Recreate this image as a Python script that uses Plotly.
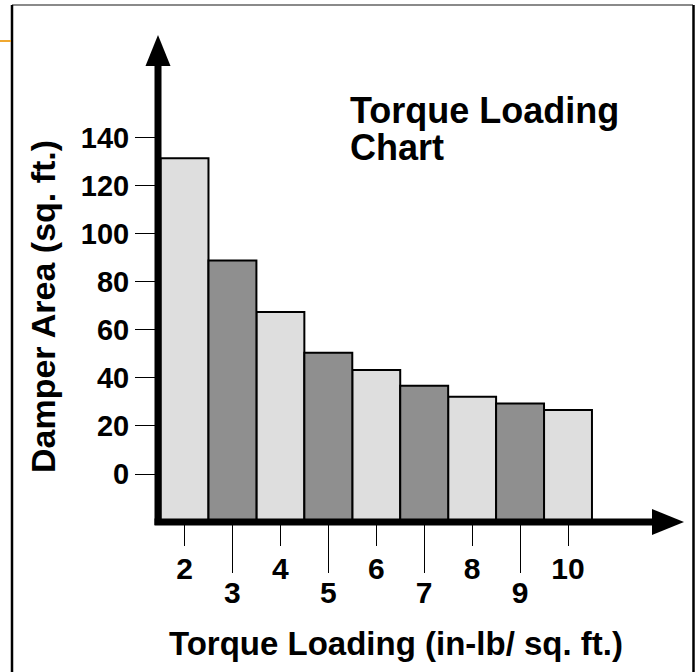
import plotly.graph_objects as go

# ---- data ----
torque = [2, 3, 4, 5, 6, 7, 8, 9, 10]
area = [131.5, 89, 67.5, 50.5, 43.3, 36.8, 32.2, 29.4, 26.7]
y_ticks = [0, 20, 40, 60, 80, 100, 120, 140]
title_lines = ["Torque Loading", "Chart"]
x_title = "Torque Loading (in-lb/ sq. ft.)"
y_title = "Damper Area (sq. ft.)"
baseline = -20

light_x = [t for t in torque if t % 2 == 0]
light_y = [a - baseline for t, a in zip(torque, area) if t % 2 == 0]
dark_x = [t for t in torque if t % 2 == 1]
dark_y = [a - baseline for t, a in zip(torque, area) if t % 2 == 1]

FONT = "Liberation Sans, Arial, sans-serif"
LIGHT = "#DEDEDE"
DARK = "#8F8F8F"

W, H = 697, 672
L, R, T, B = 158, 13, 35, 150
PW, PH = W - L - R, H - T - B


def px(x):
    return (x - L) / PW


def py(y):
    return (H - B - y) / PH


fig = go.Figure()
fig.add_trace(go.Bar(x=light_x, y=light_y, base=baseline, width=1,
                     marker=dict(color=LIGHT, line=dict(color="black", width=2)),
                     xaxis="x", yaxis="y", hoverinfo="skip"))
fig.add_trace(go.Bar(x=dark_x, y=dark_y, base=baseline, width=1,
                     marker=dict(color=DARK, line=dict(color="black", width=2)),
                     xaxis="x2", yaxis="y", hoverinfo="skip"))

xr = [1.447, 12.42]
tickfont = dict(family=FONT, size=30, color="black", weight="bold")

fig.update_layout(
    width=W, height=H,
    margin=dict(l=L, r=R, t=T, b=B),
    paper_bgcolor="white", plot_bgcolor="white",
    showlegend=False, barmode="overlay",
    xaxis=dict(range=xr, tickvals=light_x, ticktext=[str(v) for v in light_x],
               ticks="outside", ticklen=23, tickwidth=1, tickcolor="black",
               ticklabelstandoff=-3,
               showgrid=False, zeroline=False, showline=False,
               tickfont=tickfont, automargin=False),
    xaxis2=dict(range=xr, overlaying="x", anchor="y", side="bottom",
                tickvals=dark_x, ticktext=[str(v) for v in dark_x],
                ticks="outside", ticklen=50, tickwidth=1, tickcolor="black",
                ticklabelstandoff=-6,
                showgrid=False, zeroline=False, showline=False,
                tickfont=tickfont, automargin=False),
    yaxis=dict(range=[baseline, 182.9], tickvals=y_ticks,
               ticks="outside", ticklen=22, tickwidth=1, tickcolor="black",
               showgrid=False, zeroline=False, showline=False,
               tickfont=dict(family=FONT, size=29, color="black", weight="bold"),
               automargin=False),
)

shapes = []
# y axis line + arrow
shapes.append(dict(type="line", xref="paper", yref="paper",
                   x0=0, x1=0, y0=py(525), y1=py(64),
                   line=dict(color="black", width=7), layer="above"))
shapes.append(dict(type="path", xref="paper", yref="paper",
                   path=f"M {px(145.5)} {py(66)} L {px(158)} {py(35)} L {px(170.5)} {py(66)} Z",
                   fillcolor="black", line=dict(color="black", width=0), layer="above"))
# x axis line + arrow
shapes.append(dict(type="line", xref="paper", yref="paper",
                   x0=px(154.5), x1=px(654), y0=0, y1=0,
                   line=dict(color="black", width=7), layer="above"))
shapes.append(dict(type="path", xref="paper", yref="paper",
                   path=f"M {px(652)} {py(509)} L {px(684)} {py(522)} L {px(652)} {py(535)} Z",
                   fillcolor="black", line=dict(color="black", width=0), layer="above"))
# frame
shapes.append(dict(type="line", xref="paper", yref="paper",
                   x0=px(12), x1=px(693), y0=py(5), y1=py(5),
                   line=dict(color="#8a8a8a", width=2)))
shapes.append(dict(type="line", xref="paper", yref="paper",
                   x0=px(12), x1=px(12), y0=py(5), y1=py(690),
                   line=dict(color="black", width=2.5)))
shapes.append(dict(type="line", xref="paper", yref="paper",
                   x0=px(693.5), x1=px(693.5), y0=py(5), y1=py(690),
                   line=dict(color="black", width=2.5)))
# small orange rule at left
shapes.append(dict(type="line", xref="paper", yref="paper",
                   x0=px(0), x1=px(11), y0=py(41), y1=py(41),
                   line=dict(color="#F0A830", width=2)))
fig.update_layout(shapes=shapes)

ann = []
ann.append(dict(text=title_lines[0], xref="paper", yref="paper",
                x=px(348), y=py(110), xanchor="left", yanchor="middle",
                showarrow=False, font=dict(family=FONT, size=36, color="black", weight="bold")))
ann.append(dict(text=title_lines[1], xref="paper", yref="paper",
                x=px(348), y=py(147), xanchor="left", yanchor="middle",
                showarrow=False, font=dict(family=FONT, size=36, color="black", weight="bold")))
ann.append(dict(text=x_title, xref="paper", yref="paper",
                x=px(396), y=py(643), xanchor="center", yanchor="middle",
                showarrow=False, font=dict(family=FONT, size=33, color="black", weight="bold")))
ann.append(dict(text=y_title, xref="paper", yref="paper",
                x=px(43), y=py(307), xanchor="center", yanchor="middle", textangle=-90,
                showarrow=False, font=dict(family=FONT, size=34, color="black", weight="bold")))
fig.update_layout(annotations=ann)

fig.write_html("out.html", config={"displayModeBar": False},
               post_script="document.body.style.margin='0';")
